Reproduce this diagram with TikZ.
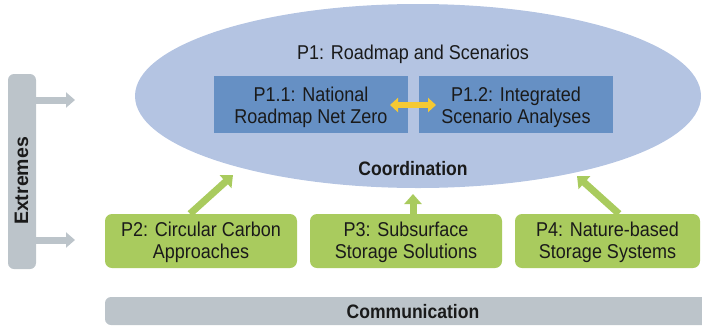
\documentclass[tikz,border=0pt]{standalone}
\usepackage{fontspec}
\setmainfont[FakeStretch=0.9]{Liberation Sans}
\newfontfamily\extfont{Liberation Sans}
\usetikzlibrary{arrows.meta,shapes.geometric}
\definecolor{ellblue}{HTML}{B4C4E2}
\definecolor{boxblue}{HTML}{6690C4}
\definecolor{pgreen}{HTML}{A9CB5E}
\definecolor{pgray}{HTML}{BCC4CA}
\definecolor{pyellow}{HTML}{F5C933}
\definecolor{txt}{HTML}{1A1A1A}
\tikzset{
  txtfont/.style={font=\fontsize{20}{22}\selectfont, text=txt, inner sep=0pt},
  boldfont/.style={font=\bfseries\fontsize{19.5}{22}\selectfont, text=txt, inner sep=0pt},
  boxtext/.style={txtfont, align=center},
  subbox/.style={fill=boxblue, minimum width=194pt, minimum height=57pt, inner sep=0pt},
  greenbox/.style={fill=pgreen, rounded corners=7pt, minimum height=54pt, inner sep=0pt},
  grayarr/.style={draw=pgray, line width=7pt, -{Triangle[width=15pt,length=9pt]}},
  greenarr/.style={draw=pgreen, line width=7pt, -{Triangle[width=17pt,length=10pt]}},
  yelarr/.style={draw=pyellow, line width=6pt, {Triangle[width=14pt,length=8pt]}-{Triangle[width=14pt,length=8pt]}},
}
\begin{document}
\begin{tikzpicture}[x=1pt,y=-1pt]
\useasboundingbox (0,0) rectangle (702,325);
% ellipse
\node[ellipse, fill=ellblue, minimum width=566pt, minimum height=184pt, inner sep=0pt] (p1) at (418,96) {};
\node[txtfont, anchor=base] (p1t) at (413,59) {P1: Roadmap and Scenarios};
\node[subbox] (p11) at (311,104.5) {};
\node[subbox] (p12) at (516,104.5) {};
\node[boxtext] (p11t) at (311,107.8) {P1.1: National\\Roadmap Net Zero};
\node[boxtext] (p12t) at (516,107.8) {P1.2: Integrated\\Scenario Analyses};
\node[boldfont, anchor=base] (coord) at (413,175) {Coordination};
\coordinate (ya) at (390,105);
\coordinate (yb) at (436,105);
\draw[yelarr] (ya) -- (yb);
% extremes bar
\node[fill=pgray, rounded corners=6pt, minimum width=28pt, minimum height=195pt, inner sep=0pt] (ext) at (22,171.5) {};
\node[rotate=90, anchor=base, inner sep=0pt, text=txt, font=\extfont\bfseries\fontsize{19.5}{22}\selectfont] (extt) at (28,181) {Extremes};
\coordinate (ge1) at (75,100);
\coordinate (ge2) at (75,240);
\draw[grayarr] (ext.east |- ge1) -- (ge1);
\draw[grayarr] (ext.east |- ge2) -- (ge2);
% green boxes
\node[greenbox, minimum width=192pt] (p2) at (201,241) {};
\node[greenbox, minimum width=192pt] (p3) at (406,241) {};
\node[greenbox, minimum width=185pt] (p4) at (607.5,241) {};
\node[boxtext] (p2t) at (201,242.8) {P2: Circular Carbon\\Approaches};
\node[boxtext] (p3t) at (406,242.8) {P3: Subsurface\\Storage Solutions};
\node[boxtext] (p4t) at (607.5,242.8) {P4: Nature-based\\Storage Systems};
\coordinate (a2) at (233,175);
\coordinate (a3) at (413,194);
\coordinate (a4) at (577,176);
\draw[greenarr] (p2.north -| 190,0) -- (a2);
\draw[greenarr] (p3.north -| a3) -- (a3);
\draw[greenarr] (p4.north -| 619,0) -- (a4);
% communication bar
\node[fill=pgray, rounded corners=6pt, minimum width=607pt, minimum height=28pt, inner sep=0pt] (comm) at (408.5,311) {};
\node[boldfont, anchor=base] (commt) at (413,318) {Communication};
\end{tikzpicture}
\end{document}
